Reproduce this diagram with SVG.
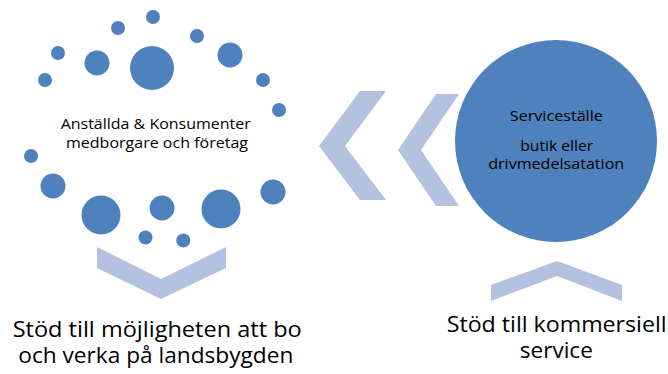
<svg xmlns="http://www.w3.org/2000/svg" width="668" height="374" viewBox="0 0 668 374">
<style>
.dot{fill:#4F81BD}
.chev{fill:#B3C2DE}
.t{font-family:"Open Sans","Liberation Sans",sans-serif;fill:#000;text-anchor:middle}
.s{font-size:14px}
.b{font-size:21px}
</style>
<rect width="668" height="374" fill="#fff"/>
<g id="connectors">
<polygon class="chev" points="360,91 386,91 345,146 386,200 360,200 319,146"/>
<polygon class="chev" points="436,94 459,94 421,150 459,206 436,206 398,150"/>
<polygon class="chev" points="97,247 161,279 226,247 226,268 161,299 97,268"/>
<polygon class="chev" points="491,285 557,261 622,285 622,301 557,276 491,301"/>
</g>
<g id="consumers">
<circle class="dot" cx="153" cy="17" r="7"/>
<circle class="dot" cx="118" cy="28" r="7"/>
<circle class="dot" cx="197" cy="36" r="7"/>
<circle class="dot" cx="58" cy="53" r="7"/>
<circle class="dot" cx="97" cy="63" r="12.5"/>
<circle class="dot" cx="152" cy="68" r="22"/>
<circle class="dot" cx="230" cy="55" r="12.5"/>
<circle class="dot" cx="45" cy="80" r="7"/>
<circle class="dot" cx="263" cy="80" r="7"/>
<circle class="dot" cx="279" cy="110" r="7"/>
<circle class="dot" cx="31" cy="156" r="7"/>
<circle class="dot" cx="53" cy="186" r="12.5"/>
<circle class="dot" cx="101" cy="215" r="19.5"/>
<circle class="dot" cx="162" cy="208" r="12.5"/>
<circle class="dot" cx="221" cy="209" r="19.5"/>
<circle class="dot" cx="273" cy="192" r="12.5"/>
<circle class="dot" cx="145.5" cy="237.5" r="7"/>
<circle class="dot" cx="183.3" cy="240.5" r="7"/>
<text class="t s" x="155.7" y="129" textLength="190" lengthAdjust="spacingAndGlyphs">Anställda &amp; Konsumenter</text>
<text class="t s" x="157" y="147.5" textLength="182" lengthAdjust="spacingAndGlyphs">medborgare och företag</text>
</g>
<g id="service">
<circle class="dot" cx="556" cy="141" r="101"/>
<text class="t s" x="556.3" y="120.7" textLength="93" lengthAdjust="spacingAndGlyphs">Serviceställe</text>
<text class="t s" x="556.7" y="150.7" textLength="73" lengthAdjust="spacingAndGlyphs">butik eller</text>
<text class="t s" x="556.2" y="169.3" textLength="136" lengthAdjust="spacingAndGlyphs">drivmedelsatation</text>
</g>
<g id="label-left">
<text class="t b" x="157.2" y="336.7" textLength="289" lengthAdjust="spacingAndGlyphs">Stöd till möjligheten att bo</text>
<text class="t b" x="155.8" y="363" textLength="275" lengthAdjust="spacingAndGlyphs">och verka på landsbygden</text>
</g>
<g id="label-right">
<text class="t b" x="556.7" y="331.7" textLength="220" lengthAdjust="spacingAndGlyphs">Stöd till kommersiell</text>
<text class="t b" x="556.3" y="358.3" textLength="73" lengthAdjust="spacingAndGlyphs">service</text>
</g>
</svg>
